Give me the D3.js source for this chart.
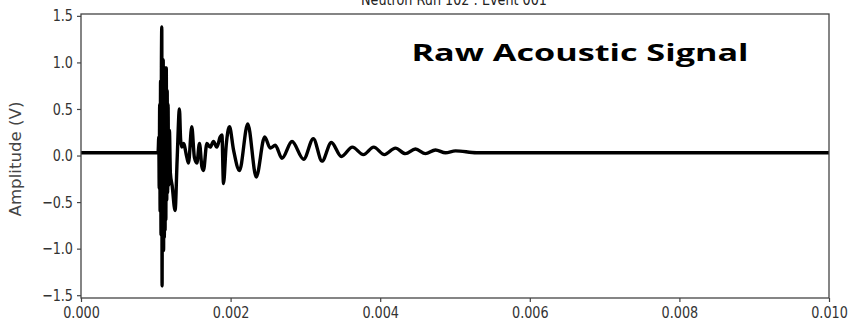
<!DOCTYPE html>
<html><head><meta charset="utf-8">
<script src="https://cdn.jsdelivr.net/npm/d3@7"></script>
<style>body{margin:0;background:#fff}svg{display:block}</style>
</head><body>
<svg id="c" width="852" height="329"></svg>
<script>
const title = "Neutron Run 102 : Event 001";
const overlay = "Raw Acoustic Signal";
const yLabel = "Amplitude (V)";
const xTicks = [0, 0.002, 0.004, 0.006, 0.008, 0.010];
const yTicks = [-1.5, -1.0, -0.5, 0.0, 0.5, 1.0, 1.5];
// time in milliseconds, amplitude in volts
const timeMs = [0,1.030,1.040,1.046,1.052,1.058,1.064,1.070,1.075,1.080,1.084,1.089,1.094,1.099,1.104,1.109,1.114,1.119,1.124,1.129,1.134,1.140,1.146,1.152,1.158,1.164,1.171,1.182,1.195,1.218,1.258,1.285,1.316,1.332,1.348,1.370,1.415,1.437,1.481,1.516,1.549,1.584,1.616,1.637,1.683,1.727,1.771,1.816,1.861,1.884,1.905,1.941,1.985,2.039,2.119,2.229,2.343,2.456,2.530,2.597,2.687,2.821,2.976,3.106,3.222,3.347,3.481,3.628,3.775,3.913,4.056,4.203,4.337,4.471,4.605,4.739,4.873,5.007,5.288,10.0];
const amplitude = [0.03,0.03,0.20,-0.35,0.55,-0.60,0.80,-0.85,0.95,1.38,-1.40,0.97,-0.93,1.03,-1.02,0.90,-0.88,0.92,-0.80,0.94,-0.69,0.94,-0.48,0.70,-0.40,0.55,-0.32,0.27,-0.19,-0.32,-0.59,-0.05,0.50,0.17,0.09,0.13,-0.02,-0.08,0.31,-0.02,-0.08,0.13,-0.12,-0.16,0.13,0.09,0.15,0.09,0.20,0.22,-0.30,0.11,0.31,0.06,-0.16,0.34,-0.23,0.20,0.08,0.11,-0.03,0.15,-0.04,0.18,-0.06,0.14,-0.01,0.09,0.01,0.09,0.01,0.08,0.02,0.07,0.02,0.06,0.03,0.05,0.03,0.03];

const svg = d3.select("#c");
const L = 81, R = 829, T = 14, B = 298;
const x = d3.scaleLinear().domain([0, 0.010]).range([L, R]);
const y = d3.scaleLinear().domain([-1.53, 1.52]).range([B, T]);
const SX = 0.8;

const data = timeMs.map((t, i) => [t / 1000, amplitude[i]]);
svg.append("path").datum(data)
  .attr("fill", "none").attr("stroke", "#000").attr("stroke-width", 3.4)
  .attr("stroke-linejoin", "round")
  .attr("d", d3.line().curve(d3.curveMonotoneX).x(d => x(d[0])).y(d => y(d[1])));

const gx = svg.append("g").attr("transform", `translate(0,${B})`)
  .call(d3.axisBottom(x).tickValues(xTicks).tickFormat(d3.format(".3f")).tickSize(4).tickSizeOuter(0));
const gy = svg.append("g").attr("transform", `translate(${L},0)`)
  .call(d3.axisLeft(y).tickValues(yTicks).tickFormat(d3.format(".1f")).tickSize(4).tickSizeOuter(0));
[gx, gy].forEach(g => {
  g.select(".domain").remove();
  g.selectAll(".tick line").attr("stroke", "#444").attr("stroke-width", 1.2);
  g.selectAll(".tick text").attr("fill", "#333")
    .style("font-family", "DejaVu Sans").style("font-size", "16px");
});
gx.selectAll(".tick text").attr("y", 9).attr("transform", `scale(${SX},1)`);
gy.selectAll(".tick text").attr("x", -8 / SX).attr("transform", `scale(${SX},1)`);

svg.append("rect").attr("x", L).attr("y", T).attr("width", R - L).attr("height", B - T)
  .attr("fill", "none").attr("stroke", "#444").attr("stroke-width", 1.3);

svg.append("text").attr("transform", `translate(21,${(T + B) / 2 + 3}) rotate(-90)`)
  .attr("text-anchor", "middle").attr("fill", "#444")
  .style("font-family", "DejaVu Sans").style("font-size", "15px")
  .attr("textLength", 115).attr("lengthAdjust", "spacingAndGlyphs").text(yLabel);

svg.append("text").attr("transform", `translate(454,5) scale(${SX},1)`)
  .attr("text-anchor", "middle").attr("fill", "#222")
  .style("font-family", "DejaVu Sans").style("font-size", "16px").text(title);

svg.append("text").attr("x", 411.5).attr("y", 61)
  .attr("fill", "#000").style("font-family", "Open Sans").style("font-weight", 700)
  .style("font-size", "23px").attr("textLength", 337).attr("lengthAdjust", "spacingAndGlyphs")
  .text(overlay);
</script>
</body></html>
